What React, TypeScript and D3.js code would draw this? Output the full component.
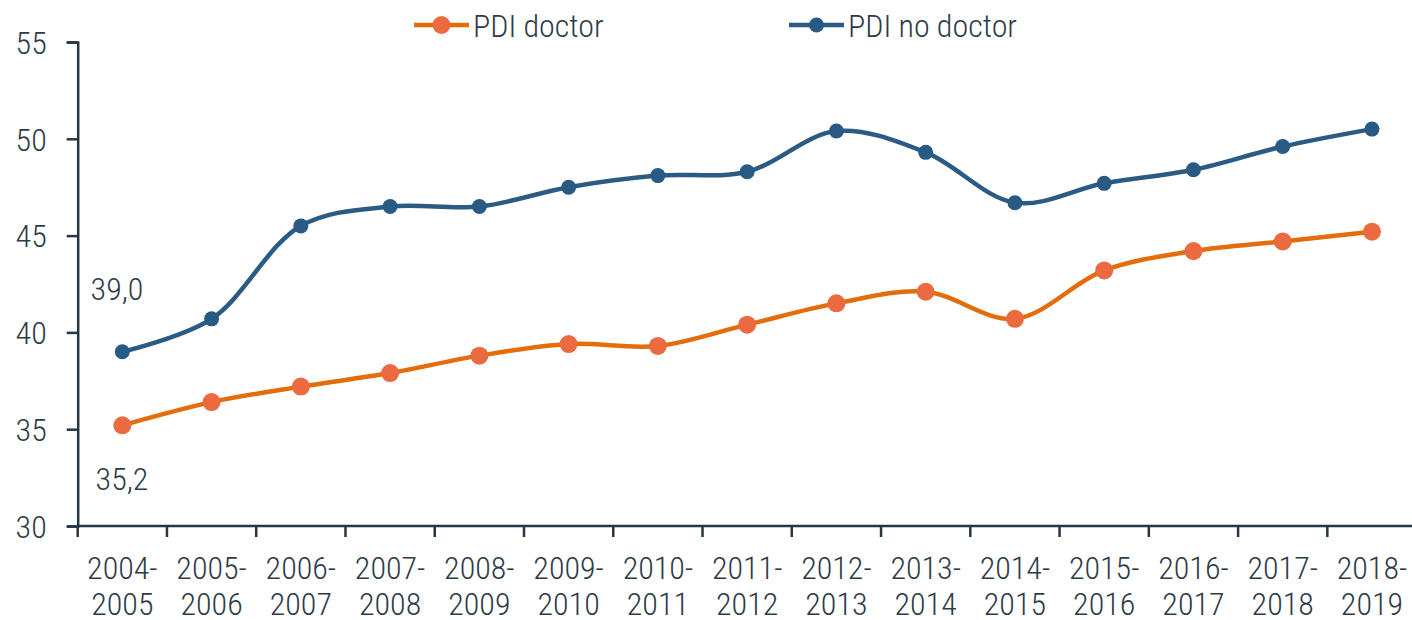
import React, { useEffect, useRef } from 'react';
import * as d3 from 'd3';

const years = ['2004-2005', '2005-2006', '2006-2007', '2007-2008', '2008-2009', '2009-2010', '2010-2011', '2011-2012', '2012-2013', '2013-2014', '2014-2015', '2015-2016', '2016-2017', '2017-2018', '2018-2019'];
const pdiDoctor = [35.2, 36.4, 37.2, 37.9, 38.8, 39.4, 39.3, 40.4, 41.5, 42.1, 40.7, 43.2, 44.2, 44.7, 45.2];
const pdiNoDoctor = [39.0, 40.7, 45.5, 46.5, 46.5, 47.5, 48.1, 48.3, 50.4, 49.3, 46.7, 47.7, 48.4, 49.6, 50.5];
const yTicks = [30, 35, 40, 45, 50, 55];

const FONT = '"Roboto Condensed", "Liberation Sans Narrow", "Arial Narrow", sans-serif';
const TEXT = '#2d3b48';
const AXIS = '#253746';

function D3Chart() {
    const ref = useRef<SVGSVGElement | null>(null);

    useEffect(() => {
        const svg = d3.select(ref.current);
        svg.selectAll('*').remove();

        const x = d3.scaleBand()
            .domain(years)
            .range([77.7, 1416.6])
            .padding(0);

        const y = d3.scaleLinear()
            .domain([30, 55])
            .range([526, 42]);

        const cx = (i: number) => (x(years[i]) as number) + x.bandwidth() / 2;

        // y axis
        const yAxis = svg.append('g')
            .attr('transform', 'translate(77.7,0)')
            .call(d3.axisLeft(y).tickValues(yTicks).tickSize(11).tickPadding(20).tickFormat(d3.format('d')));
        yAxis.select('.domain').attr('stroke', AXIS).attr('stroke-width', 2.5);
        yAxis.selectAll('.tick line').attr('stroke', AXIS).attr('stroke-width', 2.5);
        yAxis.selectAll('.tick text')
            .attr('fill', TEXT)
            .attr('font-family', FONT)
            .attr('font-weight', 300)
            .attr('font-size', 32)
            .attr('x', -31)
            .attr('dy', '0.35em');

        // x axis: ticks at category boundaries
        const xg = svg.append('g').attr('transform', 'translate(0,526)');
        xg.append('line')
            .attr('x1', 77.7).attr('x2', 1416.6)
            .attr('y1', 0).attr('y2', 0)
            .attr('stroke', AXIS).attr('stroke-width', 2.5);
        xg.selectAll('line.tick')
            .data(years)
            .enter()
            .append('line')
            .attr('class', 'tick')
            .attr('x1', d => x(d) as number)
            .attr('x2', d => x(d) as number)
            .attr('y1', 0).attr('y2', 11)
            .attr('stroke', AXIS).attr('stroke-width', 2.5);

        const labels = xg.selectAll('text.lbl')
            .data(years)
            .enter()
            .append('text')
            .attr('class', 'lbl')
            .attr('text-anchor', 'middle')
            .attr('fill', TEXT)
            .attr('font-family', FONT)
            .attr('font-weight', 300)
            .attr('font-size', 32);
        labels.append('tspan')
            .attr('x', (d, i) => cx(i))
            .attr('y', 53)
            .text(d => d.split('-')[0] + '-');
        labels.append('tspan')
            .attr('x', (d, i) => cx(i))
            .attr('y', 89)
            .text(d => d.split('-')[1]);

        const line = d3.line<number>()
            .x((d, i) => cx(i))
            .y(d => y(d))
            .curve(d3.curveCatmullRom.alpha(0.5));

        const series = [
            { name: 'PDI doctor', values: pdiDoctor, stroke: '#e46c0a', fill: '#eb6a3f', r: 9, lx: 414 },
            { name: 'PDI no doctor', values: pdiNoDoctor, stroke: '#2b5b85', fill: '#285a84', r: 7.5, lx: 789 },
        ];

        series.forEach(s => {
            svg.append('path')
                .datum(s.values)
                .attr('d', line)
                .attr('fill', 'none')
                .attr('stroke', s.stroke)
                .attr('stroke-width', 4.5)
                .attr('stroke-linejoin', 'round');

            svg.selectAll(null)
                .data(s.values)
                .enter()
                .append('circle')
                .attr('cx', (d, i) => cx(i))
                .attr('cy', d => y(d))
                .attr('r', s.r)
                .attr('fill', s.fill);
        });

        // first-point value labels
        svg.append('text')
            .attr('x', 117).attr('y', 300)
            .attr('text-anchor', 'middle')
            .attr('fill', TEXT).attr('font-family', FONT).attr('font-weight', 300).attr('font-size', 32)
            .text(d3.format('.1f')(pdiNoDoctor[0]).replace('.', ','));
        svg.append('text')
            .attr('x', 122).attr('y', 490)
            .attr('text-anchor', 'middle')
            .attr('fill', TEXT).attr('font-family', FONT).attr('font-weight', 300).attr('font-size', 32)
            .text(d3.format('.1f')(pdiDoctor[0]).replace('.', ','));

        // legend
        series.forEach(s => {
            const g = svg.append('g').attr('transform', `translate(${s.lx},25)`);
            g.append('line')
                .attr('x1', 0).attr('x2', 55)
                .attr('y1', 0).attr('y2', 0)
                .attr('stroke', s.stroke).attr('stroke-width', 4.5);
            g.append('circle')
                .attr('cx', 27.5).attr('cy', 0)
                .attr('r', s.r).attr('fill', s.fill);
            g.append('text')
                .attr('x', 59).attr('y', 12)
                .attr('fill', TEXT).attr('font-family', FONT).attr('font-weight', 300).attr('font-size', 32)
                .text(s.name);
        });
    }, []);

    return (
        <svg
            ref={ref}
            width={1412}
            height={620}
            style={{ position: 'absolute', left: 0, top: 0, background: '#fff' }}
        />
    );
}

export default function App() {
    return <D3Chart />;
}
